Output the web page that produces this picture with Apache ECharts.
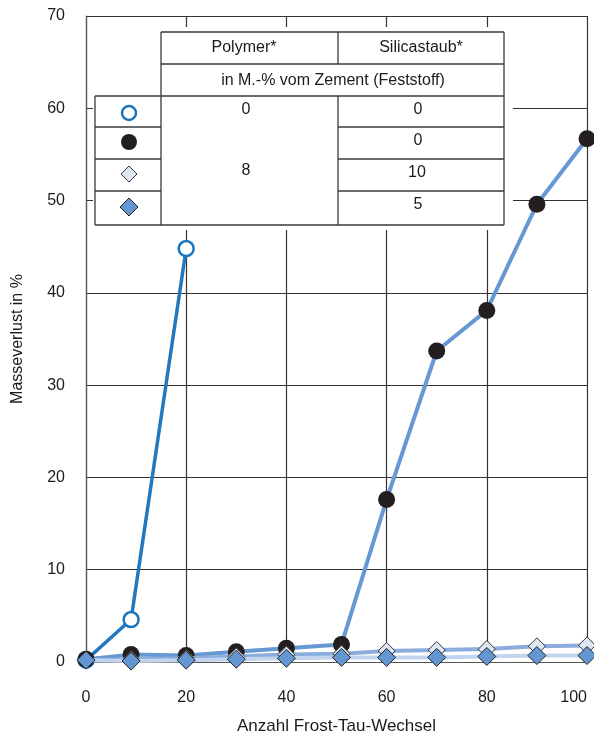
<!DOCTYPE html>
<html>
<head>
<meta charset="utf-8">
<script src="https://cdn.jsdelivr.net/npm/echarts@6/dist/echarts.min.js"></script>
<style>
  html, body { margin: 0; padding: 0; background: #fff; }
  #chart { width: 594px; height: 740px; }
</style>
</head>
<body>
<div id="chart"></div>
<script>
// Frost-Tau-Wechsel (x) und Masseverlust in % (y)
var zyklenOhne = [0, 9, 20];
var verlustOhne = [0.2, 4.6, 44.8];

var zyklen = [0, 9, 20, 30, 40, 51, 60, 70, 80, 90, 100];
var verlustPolymer = [0.3, 0.8, 0.7, 1.1, 1.5, 1.9, 17.6, 33.7, 38.1, 49.6, 56.7];
var verlustSilica10 = [0.2, 0.3, 0.4, 0.6, 0.8, 0.9, 1.2, 1.3, 1.4, 1.7, 1.8];
var verlustSilica5 = [0.2, 0.1, 0.2, 0.3, 0.4, 0.5, 0.5, 0.5, 0.6, 0.7, 0.7];

var xTicks = [0, 20, 40, 60, 80, 100];
var yTicks = [0, 10, 20, 30, 40, 50, 60, 70];

var FONT = '"Liberation Sans", Arial, sans-serif';
var TXT = '#1e1a1b';

function pairs(xs, ys) {
  return xs.map(function (x, i) { return [x, ys[i]]; });
}

// Tabelle (Legende) oben links
var tabelle = [];
function linie(x1, y1, x2, y2) {
  tabelle.push({
    type: 'line', z: 100,
    shape: { x1: x1, y1: y1, x2: x2, y2: y2 },
    style: { stroke: '#3a3a3a', lineWidth: 1.3 }
  });
}
function zelle(text, x, y) {
  tabelle.push({
    type: 'text', z: 101, x: x, y: y,
    style: { text: text, fill: TXT, font: '16px ' + FONT, align: 'center', verticalAlign: 'middle' }
  });
}
tabelle.push({ type: 'rect', z: 99, shape: { x: 93, y: 27, width: 420, height: 203 }, style: { fill: '#fff' } });
linie(161, 32, 504, 32);
linie(161, 64, 504, 64);
linie(95, 96, 504, 96);
linie(95, 127, 161, 127);
linie(95, 159, 161, 159);
linie(95, 191, 161, 191);
linie(338, 127, 504, 127);
linie(338, 159, 504, 159);
linie(338, 191, 504, 191);
linie(95, 225, 504, 225);
linie(95, 96, 95, 225);
linie(161, 32, 161, 225);
linie(504, 32, 504, 225);
linie(338, 32, 338, 64);
linie(338, 96, 338, 225);

zelle('Polymer*', 244, 48);
zelle('Silicastaub*', 421, 48);
zelle('in M.-% vom Zement (Feststoff)', 333, 81);
zelle('0', 246, 110);
zelle('0', 418, 110);
zelle('0', 418, 141);
zelle('8', 246, 171);
zelle('10', 417, 173);
zelle('5', 418, 205);

tabelle.push({ type: 'circle', z: 101, shape: { cx: 129, cy: 113, r: 7 }, style: { fill: '#fff', stroke: '#1a76bf', lineWidth: 2.5 } });
tabelle.push({ type: 'circle', z: 101, shape: { cx: 129, cy: 142, r: 8 }, style: { fill: '#231f20' } });
tabelle.push({ type: 'polygon', z: 101, shape: { points: [[129, 166], [137, 174], [129, 182], [121, 174]] }, style: { fill: '#dfe6f3', stroke: '#333', lineWidth: 1 } });
tabelle.push({ type: 'polygon', z: 101, shape: { points: [[129, 198], [138, 207], [129, 216], [120, 207]] }, style: { fill: '#6496d2', stroke: '#222', lineWidth: 1 } });

var chart = echarts.init(document.getElementById('chart'));
chart.setOption({
  animation: false,
  backgroundColor: '#fff',
  textStyle: { fontFamily: FONT },
  grid: { left: 86, right: 7, top: 16, bottom: 78, containLabel: false, outerBoundsMode: 'none' },
  xAxis: {
    type: 'value', min: 0, max: 100, interval: 20,
    name: 'Anzahl Frost-Tau-Wechsel',
    nameLocation: 'middle', nameGap: 56,
    nameTextStyle: { color: TXT, fontSize: 17, fontFamily: FONT },
    axisLine: { show: true, lineStyle: { color: '#555', width: 1.2 } },
    axisTick: { show: false },
    axisLabel: {
      color: TXT, fontSize: 16, margin: 28, alignMaxLabel: 'right',
      formatter: function (v) { return xTicks.indexOf(v) >= 0 ? String(v) : ''; }
    },
    splitLine: { show: true, lineStyle: { color: '#333', width: 1.2 } }
  },
  yAxis: {
    type: 'value', min: 0, max: 70, interval: 10,
    name: 'Masseverlust in %',
    nameLocation: 'middle', nameGap: 60, nameRotate: 90,
    nameTextStyle: { color: TXT, fontSize: 16, fontFamily: FONT },
    axisLine: { show: true, lineStyle: { color: '#555', width: 1.2 } },
    axisTick: { show: false },
    axisLabel: {
      color: TXT, fontSize: 16, margin: 21,
      formatter: function (v) { return yTicks.indexOf(v) >= 0 ? String(v) : ''; }
    },
    splitLine: { show: true, lineStyle: { color: '#333', width: 1.2 } }
  },
  series: [
    {
      name: 'Polymer 0 / Silicastaub 0', type: 'line', z: 2,
      data: pairs(zyklenOhne, verlustOhne),
      symbol: 'circle', symbolSize: 15,
      lineStyle: { color: '#2279c0', width: 3.5 },
      itemStyle: { color: '#fff', borderColor: '#1a76bf', borderWidth: 2.5 }
    },
    {
      name: 'Polymer 8 / Silicastaub 0', type: 'line', z: 3,
      data: pairs(zyklen, verlustPolymer),
      symbol: 'circle', symbolSize: 17,
      lineStyle: { color: '#6699d4', width: 4 },
      itemStyle: { color: '#231f20', borderWidth: 0 }
    },
    {
      name: 'Polymer 8 / Silicastaub 10', type: 'line', z: 4,
      data: pairs(zyklen, verlustSilica10),
      symbol: 'diamond', symbolSize: [17, 17],
      lineStyle: { color: '#8aaddd', width: 4 },
      itemStyle: { color: '#dfe6f3', borderColor: '#333', borderWidth: 1 }
    },
    {
      name: 'Polymer 8 / Silicastaub 5', type: 'line', z: 5,
      data: pairs(zyklen, verlustSilica5),
      symbol: 'diamond', symbolSize: [18, 18],
      lineStyle: { color: '#c3d4ee', width: 4 },
      itemStyle: { color: '#6496d2', borderColor: '#222', borderWidth: 1 }
    }
  ],
  graphic: tabelle
});
</script>
</body>
</html>
